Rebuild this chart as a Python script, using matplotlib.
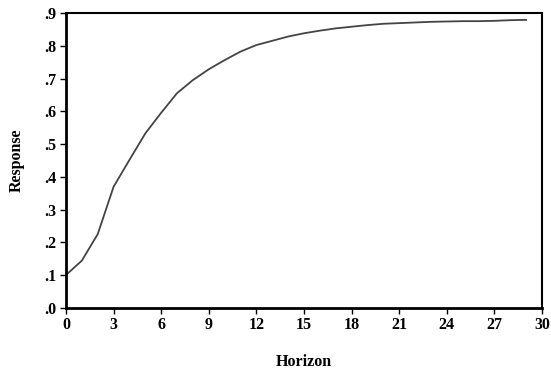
import matplotlib
matplotlib.use("Agg")
import matplotlib.pyplot as plt
from matplotlib.ticker import FuncFormatter

horizon = list(range(30))
response = [0.100, 0.144, 0.225, 0.370, 0.452, 0.533, 0.596, 0.656, 0.696, 0.729,
            0.757, 0.783, 0.803, 0.816, 0.829, 0.839, 0.847, 0.854, 0.859, 0.864,
            0.868, 0.870, 0.872, 0.874, 0.875, 0.876, 0.876, 0.877, 0.879, 0.880]
xticks = list(range(0, 31, 3))
yticks = [0.0, 0.1, 0.2, 0.3, 0.4, 0.5, 0.6, 0.7, 0.8, 0.9]

plt.rcParams['font.family'] = ['Liberation Serif', 'DejaVu Serif']
plt.rcParams['font.weight'] = 'bold'

fig = plt.figure(figsize=(5.51, 3.74), dpi=100)
ax = fig.add_axes([0.1198, 0.1773, 0.8639, 0.7871])
ax.plot(horizon, response, color='#444444', linewidth=1.3)
ax.set_xlim(0, 30)
ax.set_ylim(0, 0.9)
ax.set_xticks(xticks)
ax.set_yticks(yticks)
ax.yaxis.set_major_formatter(FuncFormatter(lambda v, p: ('%.1f' % v).lstrip('0')))
ax.tick_params(axis='both', direction='out', length=4, width=1, labelsize=11.5,
               top=False, right=False, pad=3)
for lab in ax.get_xticklabels() + ax.get_yticklabels():
    lab.set_fontweight('bold')
for s in ax.spines.values():
    s.set_linewidth(1.5)
ax.spines['left'].set_linewidth(2)
ax.spines['bottom'].set_linewidth(2)
ax.set_xlabel('Horizon', fontsize=11.5, fontweight='bold', labelpad=15)
ax.set_ylabel('Response', fontsize=11.5, fontweight='bold', labelpad=14)
fig.savefig('out.png', dpi=100)
